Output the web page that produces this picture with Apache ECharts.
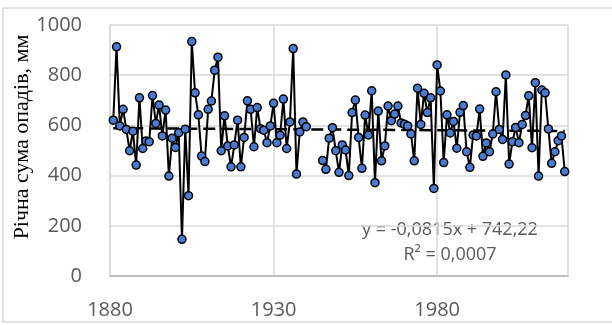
<!DOCTYPE html>
<html>
<head>
<meta charset="utf-8">
<script src="https://cdn.jsdelivr.net/npm/echarts@6/dist/echarts.min.js"></script>
<style>
  html, body { margin: 0; padding: 0; background: #fff; }
  #chart { width: 612px; height: 325px; }
</style>
</head>
<body>
<div id="chart"></div>
<script>
// annual precipitation, mm
const startYear1 = 1881;
const values1 = [
  621, 913, 598, 664, 584, 499, 577, 442, 710, 508,
  538, 535, 719, 608, 681, 558, 661, 398, 549, 512,
  571, 146, 585, 320, 934, 730, 642, 478, 456, 664,
  697, 820, 872, 499, 638, 518, 435, 522, 621, 435,
  552, 698, 664, 515, 671, 587, 581, 531, 598, 688,
  531, 561, 705, 508, 614, 906, 406, 574, 614, 595
];
const startYear2 = 1945;
const values2 = [
  460, 425, 549, 591, 499, 413, 522, 502, 400, 651,
  701, 552, 429, 641, 562, 738, 372, 657, 459, 518,
  677, 619, 645, 677, 610, 605, 598, 566, 459, 748,
  604, 728, 651, 710, 349, 841, 737, 452, 642, 570,
  616, 509, 652, 679, 495, 433, 562, 558, 665, 477,
  530, 495, 566, 734, 584, 544, 801, 446, 535, 592,
  531, 604, 639, 718, 511, 770, 398, 741, 730, 586,
  449, 495, 539, 558, 416
];
const xTicks = { min: 1880, max: 2020, step: 50 };
const yTicks = { min: 0, max: 1000, step: 200 };
const trendSlope = -0.0815;
const trendIntercept = 742.22;
const trendLabel = 'y = -0,0815x + 742,22';
const r2Label = 'R² = 0,0007';
const yTitle = 'Річна сума опадів, мм';

const series1 = values1.map((v, i) => [startYear1 + i, v]);
const series2 = values2.map((v, i) => [startYear2 + i, v]);
const firstYear = startYear1;
const lastYear = startYear2 + values2.length - 1;
const trend = [firstYear, lastYear].map(x => [x, trendSlope * x + trendIntercept]);

const lineStyle = { color: '#000', width: 2 };
const markerStyle = { color: '#4a7bd0', borderColor: '#000', borderWidth: 1.5 };
const plain = v => String(v);

const chart = echarts.init(document.getElementById('chart'), null, { renderer: 'canvas' });
chart.setOption({
  animation: false,
  backgroundColor: '#fff',
  grid: { left: 110, right: 44, top: 25, bottom: 49, containLabel: false },
  xAxis: {
    type: 'value',
    min: xTicks.min, max: xTicks.max, interval: xTicks.step,
    axisLine: { show: true, lineStyle: { color: '#bfbfbf', width: 2 } },
    axisTick: { show: false },
    splitLine: { show: true, lineStyle: { color: '#d9d9d9', width: 1.5 } },
    axisLabel: {
      showMaxLabel: false,
      formatter: plain,
      margin: 24,
      color: '#595959',
      fontFamily: 'Open Sans',
      fontSize: 20
    }
  },
  yAxis: {
    type: 'value',
    min: yTicks.min, max: yTicks.max, interval: yTicks.step,
    axisLine: { show: true, lineStyle: { color: '#d9d9d9', width: 1.5 } },
    axisTick: { show: false },
    splitLine: { show: true, lineStyle: { color: '#d9d9d9', width: 1.5 } },
    axisLabel: {
      formatter: plain,
      margin: 28,
      color: '#595959',
      fontFamily: 'Open Sans',
      fontSize: 20
    }
  },
  series: [
    {
      type: 'line', data: trend, symbol: 'none', z: 1,
      lineStyle: { color: '#000', width: 2.5, type: [12, 6] }
    },
    {
      type: 'line', data: series1, symbol: 'circle', symbolSize: 8, z: 2,
      lineStyle: lineStyle, itemStyle: markerStyle
    },
    {
      type: 'line', data: series2, symbol: 'circle', symbolSize: 8, z: 2,
      lineStyle: lineStyle, itemStyle: markerStyle
    }
  ],
  graphic: [
    {
      type: 'rect', silent: true, z: -1,
      shape: { x: 3, y: 8, width: 640, height: 314 },
      style: { fill: 'none', stroke: '#d9d9d9', lineWidth: 1.5 }
    },
    {
      type: 'text', x: 22, y: 137, rotation: Math.PI / 2,
      style: {
        text: yTitle, fill: '#000', fontFamily: 'Liberation Serif', fontSize: 22,
        align: 'center', verticalAlign: 'middle'
      }
    },
    {
      type: 'text', x: 450, y: 230,
      style: {
        text: trendLabel, fill: '#595959', fontFamily: 'Open Sans', fontSize: 18,
        align: 'center', verticalAlign: 'middle'
      }
    },
    {
      type: 'text', x: 450, y: 255,
      style: {
        text: r2Label, fill: '#595959', fontFamily: 'Open Sans', fontSize: 18,
        align: 'center', verticalAlign: 'middle'
      }
    }
  ]
});
</script>
</body>
</html>
